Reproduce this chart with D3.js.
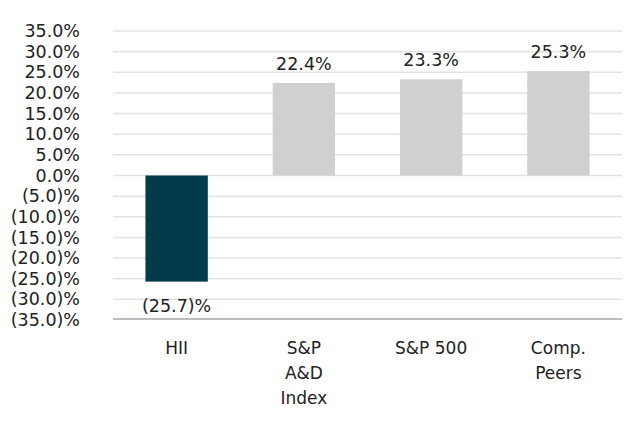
<!DOCTYPE html>
<head>
  <meta charset="UTF-8" />
  <script src="https://d3js.org/d3.v7.min.js"></script>
  <style>
    body { margin: 0; background: #fff; }
    text { font-family: "DejaVu Sans", sans-serif; fill: #222; }
  </style>
</head>
<body>
  <script>
    // donnees
    var categories = ["HII", "S&P\nA&D\nIndex", "S&P 500", "Comp.\nPeers"];
    var values = [-25.7, 22.4, 23.3, 25.3];
    var barColors = ["#023b4a", "#d0d0d0", "#d0d0d0", "#d0d0d0"];
    var tickValues = [35, 30, 25, 20, 15, 10, 5, 0, -5, -10, -15, -20, -25, -30, -35];

    var width = 632, height = 440;
    var plotLeft = 113, plotRight = 622, plotTop = 31, plotBottom = 320;

    var svg = d3.select("body").append("svg")
      .attr("width", width).attr("height", height);

    var x = d3.scaleBand().domain(categories).range([plotLeft, plotRight]).paddingInner(0.51).paddingOuter(0.255);
    var y = d3.scaleLinear().domain([-35, 35]).range([plotBottom, plotTop]);

    function fmt(v) {
      return v < 0 ? "(" + Math.abs(v).toFixed(1) + ")%" : v.toFixed(1) + "%";
    }

    // grille
    svg.append("g").selectAll("line").data(tickValues.filter(function (d) { return d !== -35; }))
      .enter().append("line")
      .attr("x1", plotLeft).attr("x2", plotRight)
      .attr("y1", function (d) { return y(d); }).attr("y2", function (d) { return y(d); })
      .style("stroke", "#e3e3e3").style("stroke-width", 1.5);

    // axe y
    var yAxis = d3.axisLeft(y).tickValues(tickValues).tickFormat(fmt).tickSize(0).tickPadding(0);
    var ga = svg.append("g").attr("transform", "translate(80,0)").call(yAxis);
    ga.select(".domain").remove();
    ga.selectAll("text").style("font-size", "17.5px").style("fill", "#222")
      .style("font-family", "DejaVu Sans, sans-serif");

    // barres
    svg.append("g").selectAll("rect").data(values).enter().append("rect")
      .attr("x", function (d, i) { return x(categories[i]); })
      .attr("width", x.bandwidth())
      .attr("y", function (d) { return y(Math.max(0, d)); })
      .attr("height", function (d) { return Math.abs(y(d) - y(0)); })
      .style("fill", function (d, i) { return barColors[i]; });

    // etiquettes de valeur
    svg.append("g").selectAll("text").data(values).enter().append("text")
      .attr("x", function (d, i) { return x(categories[i]) + x.bandwidth() / 2; })
      .attr("y", function (d) { return d >= 0 ? y(d) - 13 : y(d) + 30; })
      .attr("text-anchor", "middle")
      .style("font-size", "17.5px")
      .text(fmt);

    // axe x
    svg.append("line").attr("x1", plotLeft).attr("x2", plotRight)
      .attr("y1", plotBottom - 1).attr("y2", plotBottom - 1)
      .style("stroke", "#a6a6a6").style("stroke-width", 1.5);

    var gx = svg.append("g").selectAll("text").data(categories).enter().append("text")
      .attr("x", function (d) { return x(d) + x.bandwidth() / 2; })
      .attr("y", 354)
      .attr("text-anchor", "middle")
      .style("font-size", "17px");
    gx.each(function (d) {
      var t = d3.select(this);
      d.split("\n").forEach(function (line, i) {
        t.append("tspan").attr("x", t.attr("x")).attr("dy", i ? 25 : 0).text(line);
      });
    });
  </script>
</body>
